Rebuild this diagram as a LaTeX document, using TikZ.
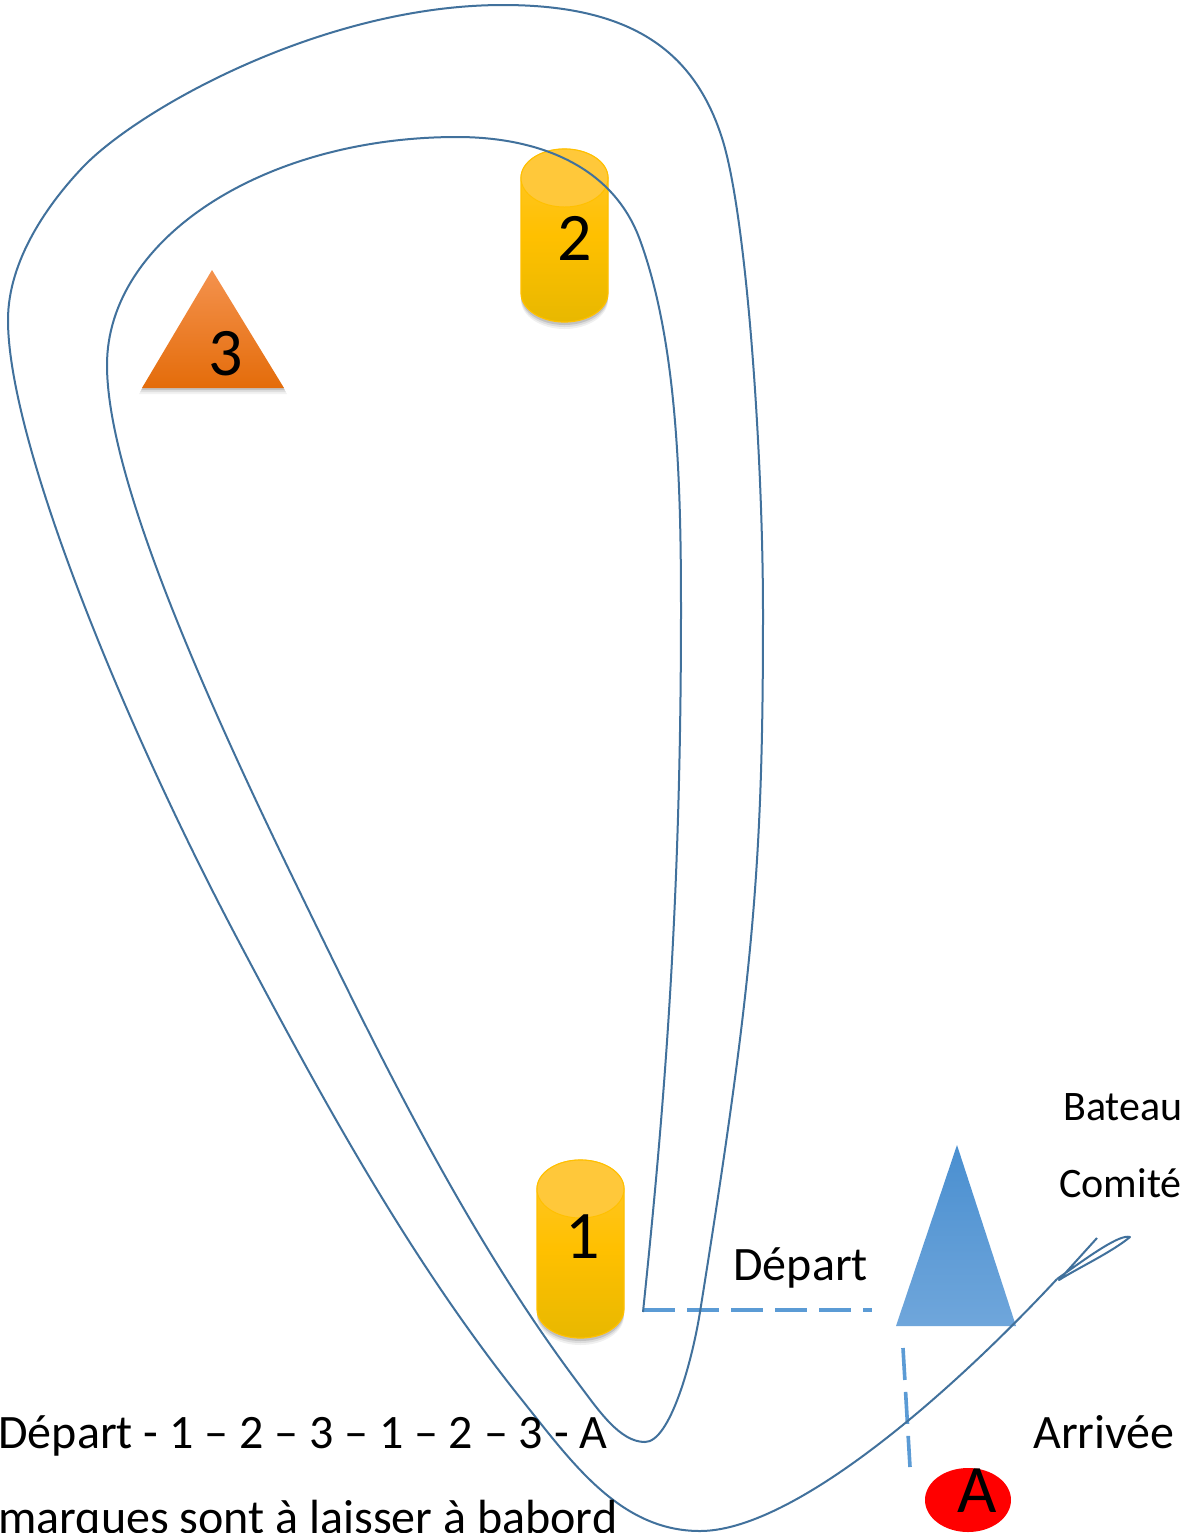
\documentclass[tikz,border=0pt]{standalone}
\usepackage{fontspec}
\setmainfont{Carlito}
\definecolor{course}{HTML}{41719C}
\definecolor{dashblue}{HTML}{5B9BD5}
\definecolor{goldtop}{HTML}{FFC72C}
\definecolor{goldmid}{HTML}{FFC000}
\definecolor{goldbot}{HTML}{E8B800}
\definecolor{goldline}{HTML}{FFC000}
\definecolor{goldface}{HTML}{FFC83A}
\definecolor{orangetop}{HTML}{F4924E}
\definecolor{orangebot}{HTML}{E46C0A}
\definecolor{bluetop}{HTML}{4A8FD0}
\definecolor{bluebot}{HTML}{6FA6DB}
\definecolor{markred}{HTML}{FF0000}
\tikzset{
  coursepath/.style={draw=course, line width=1pt, line join=round},
  lineflag/.style={draw=dashblue, line width=1.8pt, dash pattern=on 16pt off 6pt},
  label/.style={inner sep=0pt, font=\fontsize{24}{27}\selectfont},
  smalllabel/.style={inner sep=0pt, font=\fontsize{21}{24}\selectfont},
  numlabel/.style={inner sep=0pt, font=\fontsize{34}{38}\selectfont},
}
\newcommand\drawbuoy[3]{%
  % #1 centre x, #2 top ellipse centre y, #3 bottom ellipse centre y
  \foreach \s/\o in {7/0.06,5/0.08,3/0.12}{%
    \fill[black, opacity=\o] ({#1-43.5},{#2+\s}) -- ({#1-43.5},{#3+\s})
      arc[start angle=180, end angle=360, x radius=21.75pt, y radius=14.5pt]
      -- ({#1+43.5},{#2+\s}) -- cycle;}
  \path[shade, top color=goldtop, bottom color=goldbot, middle color=goldmid,
        draw=goldline, line width=0.6pt]
    ({#1-43.5},#2) -- ({#1-43.5},#3)
    arc[start angle=180, end angle=360, x radius=21.75pt, y radius=14.5pt]
    -- ({#1+43.5},#2)
    arc[start angle=0, end angle=180, x radius=21.75pt, y radius=14.5pt] -- cycle;
  \path[fill=goldface, draw=goldmid, line width=0.5pt]
    (#1,#2) ellipse[x radius=21.75pt, y radius=14.5pt];
}
\begin{document}
\begin{tikzpicture}[x=0.5pt,y=-0.5pt]
\useasboundingbox (0,0) rectangle (1204,1533);
\clip (0,0) rectangle (1204,1533);
\fill[white] (0,0) rectangle (1204,1533);

% mark 3 (orange triangle) with soft shadow
\foreach \s/\o in {6/0.05,4/0.08,2/0.12}{%
  \fill[black, opacity=\o] (212,{270+\s}) -- ({142-\s/2},{388+\s}) -- ({284+\s/2},{388+\s}) -- cycle;}
\path[shade, top color=orangetop, bottom color=orangebot]
  (212,270) -- (142,388) -- (284,388) -- cycle;
\node[numlabel, anchor=base] (n3) at (226,375) {3};

% mark 2 and mark 1 (yellow cylinders)
\drawbuoy{564.5}{178}{293}
\node[numlabel, anchor=base] (n2) at (575,260) {2};
\drawbuoy{580.5}{1189}{1309}
\node[numlabel, anchor=base] (n1) at (583,1258) {1};

% committee boat (blue triangle)
\path[shade, top color=bluetop, bottom color=bluebot]
  (957,1145) -- (896,1326) -- (1016,1326) -- cycle;

% finish mark A (red ellipse)
\fill[markred] (968,1500) ellipse[x radius=21.5pt, y radius=16pt];
\node[numlabel, anchor=base] (nA) at (977,1512) {A};

% start line and finish line
\coordinate (startpt) at (643,1310);
\coordinate (startend) at (872,1310);
\draw[lineflag] (startpt) -- (startend);
\coordinate (finA) at (903,1348);
\coordinate (finB) at (910,1467);
\draw[lineflag] (finA) -- (finB);

% course: two rounds, from the start line to the finish
\coordinate (coursestart) at (643,1312);
\coordinate (flourish) at (1057,1279);
\draw[coursepath] (coursestart)
  .. controls (663.7,1113) and (681,910) .. (681,610)
  .. controls (681,486) and (677.7,343.3) .. (640,240)
  .. controls (612.6,164.9) and (537,137) .. (457,137)
  .. controls (263.7,137) and (107,239) .. (107,365)
  .. controls (107,465) and (183.8,653.3) .. (293,878)
  .. controls (376,1048.8) and (464,1231) .. (578,1383)
  .. controls (599,1411) and (620,1442) .. (645,1442)
  .. controls (670,1442) and (692.1,1361.4) .. (700,1312)
  .. controls (753.7,976.4) and (763,864) .. (763,614)
  .. controls (763,454) and (746.5,214.2) .. (722,138)
  .. controls (694.5,52.3) and (633,5) .. (503,5)
  .. controls (323,5) and (138.3,109.2) .. (83,167)
  .. controls (48.5,203.2) and (8,260) .. (8,320)
  .. controls (8,440) and (121,719) .. (238,940)
  .. controls (322.2,1099.1) and (409.5,1259.4) .. (522,1400)
  .. controls (572,1462.5) and (620,1531) .. (700,1531)
  .. controls (790,1531) and (941.4,1403.1) .. (flourish);
\draw[coursepath] (flourish) .. controls (1092,1254) and (1120,1234) .. (1130,1237)
  .. controls (1112,1252) and (1078,1268) .. (1059,1280) -- (1097,1238);

% labels
\node[smalllabel, anchor=base west] (bateau) at (1063,1120) {Bateau};
\node[smalllabel, anchor=base west] (comite) at (1059,1197) {Comité};
\node[label, anchor=base west] (depart) at (733,1280) {Départ};
\node[label, anchor=base west] (arrivee) at (1033,1448) {Arrivée};
\node[label, anchor=base west] (route) at (-2,1448) {Départ - 1 – 2 – 3 – 1 – 2 – 3 - A};
\node[label, anchor=base west] (rule) at (-2,1533) {marques sont à laisser à babord};
\end{tikzpicture}
\end{document}
